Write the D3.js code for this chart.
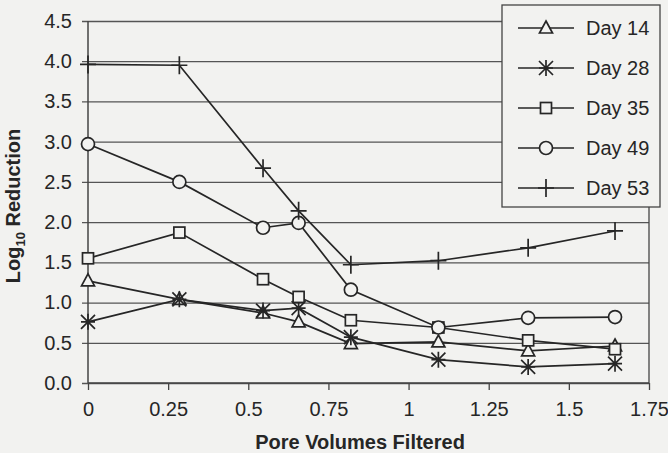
<!DOCTYPE html>
<html>
<head>
<meta charset="utf-8">
<script src="https://cdn.jsdelivr.net/npm/d3@7"></script>
<style>
  body { margin: 0; background: #f2f2f0; }
  svg { display: block; font-family: "Liberation Sans", Arial, sans-serif; }
</style>
</head>
<body>
<div id="chartContainer"></div>
<script>
// pore volumes filtered (shared by all series)
const poreVolumes = [0, 0.285, 0.546, 0.657, 0.82, 1.093, 1.373, 1.644];

const day14 = [1.27, 1.04, 0.87, 0.76, 0.49, 0.51, 0.40, 0.46];
const day28 = [0.76, 1.04, 0.90, 0.93, 0.57, 0.29, 0.20, 0.24];
const day35 = [1.55, 1.87, 1.29, 1.07, 0.78, 0.69, 0.53, 0.42];
const day49 = [2.97, 2.50, 1.93, 1.99, 1.16, 0.69, 0.81, 0.82];
const day53 = [3.96, 3.95, 2.67, 2.14, 1.47, 1.52, 1.68, 1.89];

const seriesNames = ["Day 14", "Day 28", "Day 35", "Day 49", "Day 53"];
const markerTypes = ["triangle", "asterisk", "square", "circle", "plus"];
const seriesValues = [day14, day28, day35, day49, day53];

const xTicks = [0, 0.25, 0.5, 0.75, 1, 1.25, 1.5, 1.75];
const xTickLabels = ["0", "0.25", "0.5", "0.75", "1", "1.25", "1.5", "1.75"];
const yTicks = [0, 0.5, 1, 1.5, 2, 2.5, 3, 3.5, 4, 4.5];

const svgWidth = 668;
const svgHeight = 453;
const margin = { top: 21, right: 19, bottom: 70, left: 88 };
const ink = "#262626";
const bg = "#f2f2f0";

const svg = d3.select("#chartContainer")
  .append("svg")
  .attr("width", svgWidth)
  .attr("height", svgHeight);

const xScale = d3.scaleLinear()
  .domain([0, 1.75])
  .range([margin.left, svgWidth - margin.right]);

const yScale = d3.scaleLinear()
  .domain([0, 4.5])
  .range([svgHeight - margin.bottom, margin.top]);

// gridlines + y axis
const yAxis = d3.axisLeft(yScale)
  .tickValues(yTicks)
  .tickFormat(d3.format(".1f"))
  .tickSize(-(xScale.range()[1] - xScale.range()[0]))
  .tickPadding(16);

const gy = svg.append("g")
  .attr("transform", `translate(${margin.left}, 0)`)
  .call(yAxis);
gy.select(".domain").remove();
gy.selectAll(".tick line")
  .attr("x1", -6)
  .attr("stroke", "#555")
  .attr("stroke-width", 1.3);
gy.selectAll(".tick text")
  .attr("fill", ink)
  .style("font-size", "20px");

// x axis
const xAxis = d3.axisBottom(xScale)
  .tickValues(xTicks)
  .tickFormat((d, i) => xTickLabels[i])
  .tickSize(7)
  .tickPadding(12);

const gx = svg.append("g")
  .attr("transform", `translate(0, ${yScale(0)})`)
  .call(xAxis);
gx.select(".domain")
  .attr("d", `M${xScale(0)},0H${xScale(1.75)}`)
  .attr("stroke", "#444")
  .attr("stroke-width", 1.5);
gx.selectAll(".tick line").attr("stroke", "#444").attr("stroke-width", 1.3);
gx.selectAll(".tick text")
  .attr("fill", ink)
  .style("font-size", "20px");

// left and right frame
svg.append("line")
  .attr("x1", xScale(0)).attr("x2", xScale(0))
  .attr("y1", yScale(4.5)).attr("y2", yScale(0))
  .attr("stroke", "#444").attr("stroke-width", 1.5);
svg.append("line")
  .attr("x1", xScale(1.75)).attr("x2", xScale(1.75))
  .attr("y1", yScale(4.5)).attr("y2", yScale(0))
  .attr("stroke", "#444").attr("stroke-width", 1.3);

function drawMarker(g, type, x, y) {
  const m = g.append("g").attr("transform", `translate(${x},${y})`)
    .attr("fill", "none").attr("stroke", ink).attr("stroke-width", 1.7);
  if (type === "triangle") {
    m.append("path").attr("d", "M0,-7L6.5,5L-6.5,5Z").attr("fill", bg);
  } else if (type === "square") {
    m.append("rect").attr("x", -5.5).attr("y", -5.5).attr("width", 11).attr("height", 11).attr("fill", bg);
  } else if (type === "circle") {
    m.append("circle").attr("r", 6.5).attr("fill", bg);
  } else if (type === "plus") {
    m.append("path").attr("d", "M-8,0H8M0,-9V9");
  } else if (type === "asterisk") {
    m.append("path").attr("d", "M-7,-7L7,7M-7,7L7,-7M0,-8V8M-7,0H7");
  }
}

const line = d3.line()
  .x((d, i) => xScale(poreVolumes[i]))
  .y(d => yScale(d));

seriesValues.forEach((vals, s) => {
  svg.append("path")
    .datum(vals)
    .attr("d", line)
    .attr("fill", "none")
    .attr("stroke", ink)
    .attr("stroke-width", 1.7);
});

seriesValues.forEach((vals, s) => {
  const g = svg.append("g");
  vals.forEach((v, i) => drawMarker(g, markerTypes[s], xScale(poreVolumes[i]), yScale(v)));
});

// legend
const legend = svg.append("g").attr("transform", "translate(502, 5)");
legend.append("rect")
  .attr("width", 158).attr("height", 202)
  .attr("fill", bg)
  .attr("stroke", "#444")
  .attr("stroke-width", 1.3);
seriesNames.forEach((name, i) => {
  const y = 23 + i * 40;
  legend.append("line")
    .attr("x1", 16).attr("x2", 72)
    .attr("y1", y).attr("y2", y)
    .attr("stroke", ink).attr("stroke-width", 1.7);
  drawMarker(legend, markerTypes[i], 44, y);
  legend.append("text")
    .attr("x", 84).attr("y", y)
    .attr("dy", "0.35em")
    .attr("fill", ink)
    .style("font-size", "20px")
    .text(name);
});

// axis titles
svg.append("text")
  .attr("x", 360).attr("y", 449)
  .attr("text-anchor", "middle")
  .attr("fill", ink)
  .style("font-size", "20px")
  .style("font-weight", "bold")
  .text("Pore Volumes Filtered");

const yTitle = svg.append("text")
  .attr("transform", "translate(20, 206) rotate(-90)")
  .attr("text-anchor", "middle")
  .attr("fill", ink)
  .style("font-size", "20px")
  .style("font-weight", "bold");
yTitle.append("tspan").text("Log");
yTitle.append("tspan").attr("dy", 5).style("font-size", "13px").text("10");
yTitle.append("tspan").attr("dy", -5).text(" Reduction");
</script>
</body>
</html>
